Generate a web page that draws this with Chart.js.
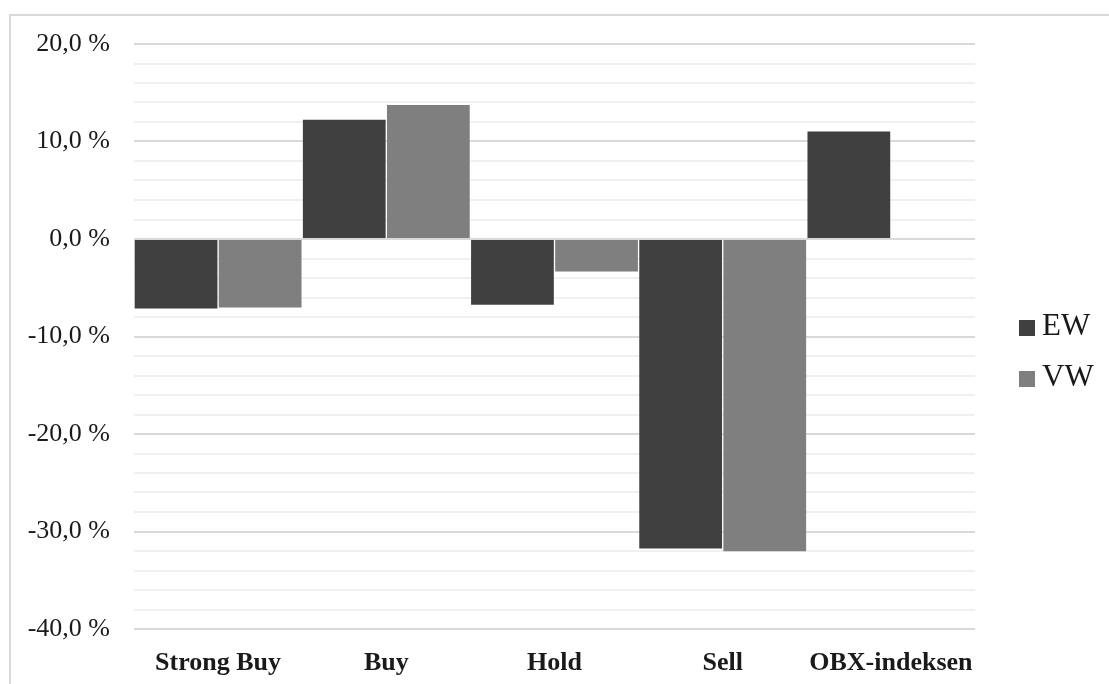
<!DOCTYPE html>
<html>
<head>
<meta charset="utf-8">
<title>EW / VW avkastning</title>
<script src="https://cdn.jsdelivr.net/npm/chart.js@4/dist/chart.umd.min.js"></script>
<style>
  html, body { margin: 0; padding: 0; background: #fff; overflow: hidden; }
  #frame {
    position: absolute; left: 9px; top: 14px;
    width: 1200px; height: 800px;
    border: 2px solid #d9d9d9; box-sizing: border-box;
  }
  #wrap { position: absolute; left: 0; top: 0; width: 1109px; height: 684px; }
</style>
</head>
<body>
<div id="frame"></div>
<div id="wrap"><canvas id="chart" width="1109" height="684"></canvas></div>
<script>
  var categories = ["Strong Buy", "Buy", "Hold", "Sell", "OBX-indeksen"];
  var ewValues = [-7.2, 12.3, -6.8, -31.8, 11.1];
  var vwValues = [-7.1, 13.8, -3.4, -32.1, null];
  var yTicks = [-40, -30, -20, -10, 0, 10, 20];

  var serif = "'Liberation Serif', 'Times New Roman', serif";

  function formatPercent(v) {
    return v.toFixed(1).replace(".", ",") + " %";
  }

  // legend on the right: square swatch + label, stacked
  var sideLegend = {
    id: "sideLegend",
    afterDraw: function (chart) {
      var ctx = chart.ctx;
      var x = chart.chartArea.right + 44;
      var y = 327;
      ctx.save();
      ctx.font = "31px " + serif;
      ctx.textBaseline = "middle";
      chart.data.datasets.forEach(function (ds, i) {
        var cy = y + i * 51;
        ctx.fillStyle = ds.backgroundColor;
        ctx.fillRect(x, cy - 7, 16, 16);
        ctx.fillStyle = "#1a1a1a";
        ctx.fillText(ds.label, x + 23, cy);
      });
      ctx.restore();
    }
  };

  new Chart(document.getElementById("chart").getContext("2d"), {
    type: "bar",
    data: {
      labels: categories,
      datasets: [
        {
          label: "EW",
          data: ewValues,
          backgroundColor: "#404040",
          borderColor: "rgba(255,255,255,0.18)",
          borderWidth: 1
        },
        {
          label: "VW",
          data: vwValues,
          backgroundColor: "#7f7f7f",
          borderColor: "rgba(255,255,255,0.18)",
          borderWidth: 1
        }
      ]
    },
    options: {
      responsive: false,
      animation: false,
      layout: { padding: { top: 44, right: 134, bottom: 0, left: 0 } },
      datasets: { bar: { categoryPercentage: 1, barPercentage: 1 } },
      plugins: {
        legend: { display: false },
        tooltip: { enabled: false }
      },
      scales: {
        x: {
          grid: { display: false },
          border: { display: false },
          ticks: {
            padding: 11,
            autoSkip: false,
            minRotation: 0,
            maxRotation: 0,
            color: "#1a1a1a",
            font: { family: serif, size: 26, weight: "bold" }
          },
          afterFit: function (scale) { scale.height = 55; }
        },
        y: {
          min: yTicks[0],
          max: yTicks[yTicks.length - 1],
          border: { display: false },
          grid: {
            drawTicks: false,
            color: function (c) {
              return yTicks.indexOf(c.tick.value) >= 0 ? "#d9d9d9" : "#f0f0f0";
            },
            lineWidth: 2
          },
          ticks: {
            stepSize: 2,
            autoSkip: false,
            padding: 24,
            color: "#1a1a1a",
            font: { family: serif, size: 26 },
            callback: function (v) {
              return yTicks.indexOf(v) >= 0 ? formatPercent(v) : "";
            }
          },
          afterFit: function (scale) { scale.width = 134; }
        }
      }
    },
    plugins: [sideLegend]
  });
</script>
</body>
</html>
